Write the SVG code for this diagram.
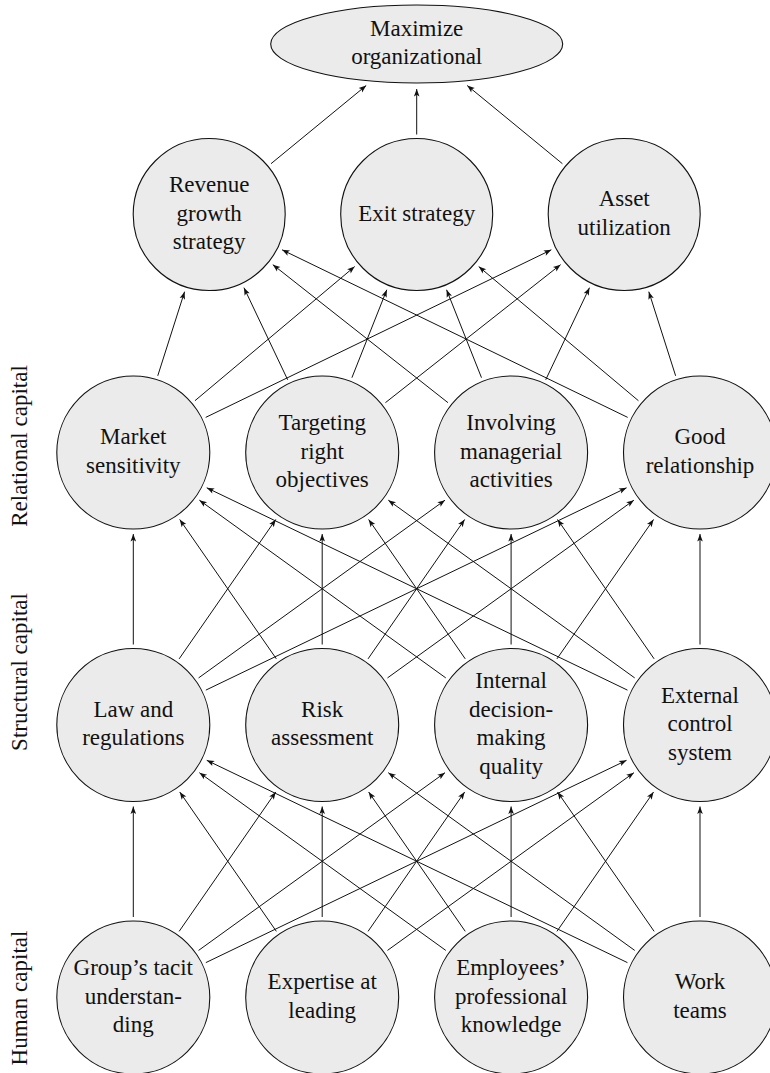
<svg xmlns="http://www.w3.org/2000/svg" width="770" height="1073" viewBox="0 0 770 1073">
<style>
.n{fill:#ebebeb;stroke:#111;stroke-width:1.1}
.t{font-family:"Liberation Serif","Times New Roman",serif;font-size:23px;fill:#111;text-anchor:middle}
.s{font-family:"Liberation Serif","Times New Roman",serif;font-size:23px;fill:#111;text-anchor:middle}
.e line{stroke:#111;stroke-width:1;marker-end:url(#ah)}
</style>
<defs>
<marker id="ah" markerUnits="userSpaceOnUse" markerWidth="10" markerHeight="8" viewBox="-8 -4 9 8" refX="0" refY="0" orient="auto">
<path d="M0,0 L-7.5,-2.8 L-5.8,0 L-7.5,2.8 Z" fill="#111"/>
</marker>
</defs>
<rect width="770" height="1073" fill="#fff"/>
<g id="connectors" class="e">
<line x1="416.7" y1="134.5" x2="416.7" y2="89"/>
<line x1="271" y1="163.7" x2="366.2" y2="85.5"/>
<line x1="562.4" y1="163.7" x2="467.2" y2="85.5"/>
<line x1="157.76" y1="375.8" x2="184.59" y2="291.67"/>
<line x1="194.95" y1="400.73" x2="354.67" y2="266.59"/>
<line x1="205.73" y1="417.38" x2="551.32" y2="249.84"/>
<line x1="287.67" y1="379.78" x2="243.94" y2="287.68"/>
<line x1="351.91" y1="377.68" x2="386.81" y2="289.78"/>
<line x1="385.43" y1="402.67" x2="560.58" y2="264.64"/>
<line x1="447.97" y1="402.67" x2="272.82" y2="264.64"/>
<line x1="481.49" y1="377.68" x2="446.59" y2="289.78"/>
<line x1="545.73" y1="379.78" x2="589.46" y2="287.68"/>
<line x1="627.67" y1="417.38" x2="282.08" y2="249.84"/>
<line x1="638.45" y1="400.73" x2="478.73" y2="266.59"/>
<line x1="675.64" y1="375.8" x2="648.81" y2="291.67"/>
<line x1="133.3" y1="644.5" x2="133.3" y2="534"/>
<line x1="179.16" y1="658.85" x2="275.77" y2="519.48"/>
<line x1="198.59" y1="677.91" x2="445" y2="500.18"/>
<line x1="205.85" y1="690.11" x2="626.55" y2="487.82"/>
<line x1="276.34" y1="658.85" x2="179.73" y2="519.48"/>
<line x1="322.2" y1="644.5" x2="322.2" y2="534"/>
<line x1="368.06" y1="658.85" x2="464.67" y2="519.48"/>
<line x1="387.49" y1="677.91" x2="633.9" y2="500.18"/>
<line x1="445.81" y1="677.91" x2="199.4" y2="500.18"/>
<line x1="465.24" y1="658.85" x2="368.63" y2="519.48"/>
<line x1="511.1" y1="644.5" x2="511.1" y2="534"/>
<line x1="556.96" y1="658.85" x2="653.57" y2="519.48"/>
<line x1="627.45" y1="690.11" x2="206.75" y2="487.82"/>
<line x1="634.71" y1="677.91" x2="388.3" y2="500.18"/>
<line x1="654.14" y1="658.85" x2="557.53" y2="519.48"/>
<line x1="700" y1="644.5" x2="700" y2="534"/>
<line x1="133.3" y1="917" x2="133.3" y2="806.5"/>
<line x1="179.16" y1="931.35" x2="275.77" y2="791.98"/>
<line x1="198.59" y1="950.41" x2="445" y2="772.68"/>
<line x1="205.85" y1="962.61" x2="626.55" y2="760.32"/>
<line x1="276.34" y1="931.35" x2="179.73" y2="791.98"/>
<line x1="322.2" y1="917" x2="322.2" y2="806.5"/>
<line x1="368.06" y1="931.35" x2="464.67" y2="791.98"/>
<line x1="387.49" y1="950.41" x2="633.9" y2="772.68"/>
<line x1="445.81" y1="950.41" x2="199.4" y2="772.68"/>
<line x1="465.24" y1="931.35" x2="368.63" y2="791.98"/>
<line x1="511.1" y1="917" x2="511.1" y2="806.5"/>
<line x1="556.96" y1="931.35" x2="653.57" y2="791.98"/>
<line x1="627.45" y1="962.61" x2="206.75" y2="760.32"/>
<line x1="634.71" y1="950.41" x2="388.3" y2="772.68"/>
<line x1="654.14" y1="931.35" x2="557.53" y2="791.98"/>
<line x1="700" y1="917" x2="700" y2="806.5"/>
</g>
<g id="goal"><ellipse class="n" cx="416.7" cy="44" rx="146" ry="39"/><text class="t" x="416.7" y="35.75">Maximize</text><text class="t" x="416.7" y="64.25">organizational</text></g>
<g id="revenue"><circle class="n" cx="209.2" cy="214.5" r="76"/><text class="t" x="209.2" y="192">Revenue</text><text class="t" x="209.2" y="220.5">growth</text><text class="t" x="209.2" y="249">strategy</text></g>
<g id="exit"><circle class="n" cx="416.7" cy="214.5" r="76"/><text class="t" x="416.7" y="220.5">Exit strategy</text></g>
<g id="asset"><circle class="n" cx="624.2" cy="214.5" r="76"/><text class="t" x="624.2" y="206.25">Asset</text><text class="t" x="624.2" y="234.75">utilization</text></g>
<g id="market"><circle class="n" cx="133.3" cy="452.5" r="76.5"/><text class="t" x="133.3" y="444.25">Market</text><text class="t" x="133.3" y="472.75">sensitivity</text></g>
<g id="targeting"><circle class="n" cx="322.2" cy="452.5" r="76.5"/><text class="t" x="322.2" y="430">Targeting</text><text class="t" x="322.2" y="458.5">right</text><text class="t" x="322.2" y="487">objectives</text></g>
<g id="involving"><circle class="n" cx="511.1" cy="452.5" r="76.5"/><text class="t" x="511.1" y="430">Involving</text><text class="t" x="511.1" y="458.5">managerial</text><text class="t" x="511.1" y="487">activities</text></g>
<g id="good"><circle class="n" cx="700" cy="452.5" r="76.5"/><text class="t" x="700" y="444.25">Good</text><text class="t" x="700" y="472.75">relationship</text></g>
<g id="law"><circle class="n" cx="133.3" cy="725" r="76.5"/><text class="t" x="133.3" y="716.75">Law and</text><text class="t" x="133.3" y="745.25">regulations</text></g>
<g id="risk"><circle class="n" cx="322.2" cy="725" r="76.5"/><text class="t" x="322.2" y="716.75">Risk</text><text class="t" x="322.2" y="745.25">assessment</text></g>
<g id="internal"><circle class="n" cx="511.1" cy="725" r="76.5"/><text class="t" x="511.1" y="688.25">Internal</text><text class="t" x="511.1" y="716.75">decision-</text><text class="t" x="511.1" y="745.25">making</text><text class="t" x="511.1" y="773.75">quality</text></g>
<g id="external"><circle class="n" cx="700" cy="725" r="76.5"/><text class="t" x="700" y="702.5">External</text><text class="t" x="700" y="731">control</text><text class="t" x="700" y="759.5">system</text></g>
<g id="group"><circle class="n" cx="133.3" cy="997.5" r="76.5"/><text class="t" x="133.3" y="975">Group’s tacit</text><text class="t" x="133.3" y="1003.5">understan-</text><text class="t" x="133.3" y="1032">ding</text></g>
<g id="expertise"><circle class="n" cx="322.2" cy="997.5" r="76.5"/><text class="t" x="322.2" y="989.25">Expertise at</text><text class="t" x="322.2" y="1017.75">leading</text></g>
<g id="employees"><circle class="n" cx="511.1" cy="997.5" r="76.5"/><text class="t" x="511.1" y="975">Employees’</text><text class="t" x="511.1" y="1003.5">professional</text><text class="t" x="511.1" y="1032">knowledge</text></g>
<g id="work"><circle class="n" cx="700" cy="997.5" r="76.5"/><text class="t" x="700" y="989.25">Work</text><text class="t" x="700" y="1017.75">teams</text></g>
<g id="labels">
<text class="s" transform="translate(27,446) rotate(-90)">Relational capital</text>
<text class="s" transform="translate(27,672) rotate(-90)">Structural capital</text>
<text class="s" transform="translate(27,998) rotate(-90)">Human capital</text>
</g>
</svg>
